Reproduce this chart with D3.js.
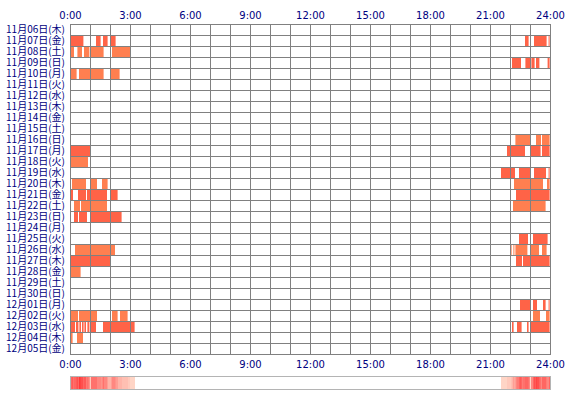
<!DOCTYPE html>
<html>
<head>
<meta charset="utf-8">
<script src="https://cdn.jsdelivr.net/npm/d3@7"></script>
<style>
  body { margin: 0; background: #fff; }
  svg { display: block; }
  text { font-family: "Noto Sans CJK JP", "DejaVu Sans", sans-serif; fill: #000080; }
</style>
</head>
<body>
<svg width="570" height="400"></svg>
<script>
// row labels (one per day)
var days = ["11月06日(木)", "11月07日(金)", "11月08日(土)", "11月09日(日)", "11月10日(月)",
  "11月11日(火)", "11月12日(水)", "11月13日(木)", "11月14日(金)", "11月15日(土)",
  "11月16日(日)", "11月17日(月)", "11月18日(火)", "11月19日(水)", "11月20日(木)",
  "11月21日(金)", "11月22日(土)", "11月23日(日)", "11月24日(月)", "11月25日(火)",
  "11月26日(水)", "11月27日(木)", "11月28日(金)", "11月29日(土)", "11月30日(日)",
  "12月01日(月)", "12月02日(火)", "12月03日(水)", "12月04日(木)", "12月05日(金)"];

// 1 = strong (tomato), 0 = light (coral)
var dayLevel = [0, 1, 0, 1, 0, 0, 0, 0, 0, 0,
                0, 1, 0, 1, 0, 1, 0, 1, 0, 1,
                0, 1, 0, 0, 0, 1, 0, 1, 0, 0];

// active periods per day, [start hour, end hour]
var sessions = [
  [],
  [[0.05, 0.67], [1.3, 1.53], [1.65, 1.88], [2.05, 2.28], [22.75, 22.93], [23.2, 23.83], [23.93, 23.98]],
  [[0.05, 0.2], [0.37, 0.6], [0.7, 0.97], [1.03, 1.68], [2.1, 3.0]],
  [[22.1, 22.55], [22.77, 23.0], [23.07, 23.23], [23.3, 23.47], [23.88, 23.98]],
  [[0.05, 0.33], [0.45, 1.0], [1.03, 1.68], [2.03, 2.48]],
  [], [], [], [], [],
  [[22.27, 23.0], [23.3, 23.55], [23.6, 23.98]],
  [[0.05, 1.0], [21.85, 22.75], [23.05, 23.53], [23.6, 23.98]],
  [[0.05, 0.9]],
  [[21.55, 22.25], [22.45, 23.0], [23.2, 23.8], [23.93, 23.98]],
  [[0.1, 0.8], [1.03, 1.35], [1.6, 1.88], [22.2, 23.0], [23.05, 23.65], [23.85, 23.98]],
  [[0.05, 0.15], [0.4, 0.8], [0.85, 1.0], [1.05, 1.85], [2.0, 2.38], [22.3, 23.0], [23.05, 23.98]],
  [[0.2, 0.5], [0.55, 1.0], [1.03, 1.85], [22.15, 23.0], [23.05, 23.78]],
  [[0.2, 0.4], [0.45, 0.85], [1.05, 2.03], [2.05, 2.58]],
  [],
  [[22.45, 22.9], [23.15, 23.88]],
  [[0.25, 1.0], [1.05, 2.25], [22.07, 22.1], [22.17, 22.22], [22.27, 22.87], [23.0, 23.45], [23.6, 23.83]],
  [[0.05, 1.0], [1.05, 2.0], [22.3, 22.6], [22.65, 23.0], [23.03, 23.98]],
  [[0.05, 0.53]],
  [], [],
  [[22.5, 23.0], [23.15, 23.35], [23.65, 23.78], [23.93, 23.98]],
  [[0.05, 0.4], [0.45, 1.35], [2.1, 2.38], [2.5, 2.88], [23.15, 23.5], [23.8, 23.98]],
  [[0.05, 0.25], [0.3, 0.42], [0.47, 0.55], [0.6, 0.68], [0.72, 0.8], [0.87, 0.97], [1.0, 1.3], [1.65, 3.23],
   [22.1, 22.18], [22.35, 22.58], [22.85, 22.93], [23.03, 23.98]],
  [[0.05, 0.13], [0.35, 0.65]],
  []
];

var hourTicks = [0, 3, 6, 9, 12, 15, 18, 21, 24];
var levelColors = ["#ff7f50", "#ff6347"];

var svg = d3.select("svg");
var x = d3.scaleLinear().domain([0, 24]).range([70, 550]);
var y = d3.scaleBand().domain(days).range([24, 354]);

// bars
var rows = svg.append("g").selectAll("g")
  .data(days)
  .enter().append("g");

rows.selectAll("rect")
  .data(function (d, i) { return sessions[i].map(function (s) { return { s: s, lv: dayLevel[i], day: d }; }); })
  .enter().append("rect")
  .attr("x", function (d) { return x(d.s[0]); })
  .attr("width", function (d) { return x(d.s[1]) - x(d.s[0]); })
  .attr("y", function (d) { return y(d.day); })
  .attr("height", y.bandwidth())
  .attr("fill", function (d) { return levelColors[d.lv]; });

// grid
var grid = svg.append("g").attr("stroke", "#808080").attr("stroke-width", 1);
grid.selectAll(".v")
  .data(d3.range(0, 25))
  .enter().append("line")
  .attr("x1", function (d) { return Math.round(x(d)) + 0.5; })
  .attr("x2", function (d) { return Math.round(x(d)) + 0.5; })
  .attr("y1", 24).attr("y2", 354.5);
grid.selectAll(".h")
  .data(d3.range(0, days.length + 1))
  .enter().append("line")
  .attr("x1", 70).attr("x2", 551)
  .attr("y1", function (d) { return 24 + d * y.bandwidth() + 0.5; })
  .attr("y2", function (d) { return 24 + d * y.bandwidth() + 0.5; });

// time axes
function fmt(d) { return d + ":00"; }
var topAxis = svg.append("g").attr("transform", "translate(0,19)")
  .call(d3.axisTop(x).tickValues(hourTicks).tickFormat(fmt).tickSize(0).tickPadding(0));
var bottomAxis = svg.append("g").attr("transform", "translate(0,360)")
  .call(d3.axisBottom(x).tickValues(hourTicks).tickFormat(fmt).tickSize(0).tickPadding(0));
[topAxis, bottomAxis].forEach(function (a) {
  a.select(".domain").remove();
  a.selectAll("text").style("font-size", "10px").style("font-family", "'DejaVu Sans', sans-serif").attr("fill", "#000080");
});
bottomAxis.selectAll("text").attr("dy", "0.75em");

// day labels
svg.append("g").selectAll("text")
  .data(days)
  .enter().append("text")
  .attr("x", 65)
  .attr("y", function (d) { return y(d) + y.bandwidth() / 2; })
  .attr("dy", "0.36em")
  .attr("text-anchor", "end")
  .style("font-size", "10px")
  .text(function (d) { return d; });

// summary strip: how many days were active at each moment
var step = 0.05;
var bins = d3.range(0, 24, step).map(function (t) {
  var c = 0;
  sessions.forEach(function (list) {
    if (list.some(function (s) { return t + step / 2 >= s[0] && t + step / 2 < s[1]; })) c++;
  });
  return { t: t, c: c };
});
var maxC = d3.max(bins, function (d) { return d.c; });
var heat = d3.scaleLinear().domain([0, 0.001, maxC]).range(["#ffffff", "#ffe0d0", "#ff3a3a"]);

var strip = svg.append("g");
strip.selectAll("rect")
  .data(bins)
  .enter().append("rect")
  .attr("x", function (d) { return x(d.t); })
  .attr("width", x(step) - x(0) + 0.3)
  .attr("y", 377)
  .attr("height", 12)
  .attr("fill", function (d) { return heat(d.c); });
strip.append("rect")
  .attr("x", 70.5).attr("y", 376.5)
  .attr("width", 480).attr("height", 13)
  .attr("fill", "none").attr("stroke", "#b4b4b4");
</script>
</body>
</html>
